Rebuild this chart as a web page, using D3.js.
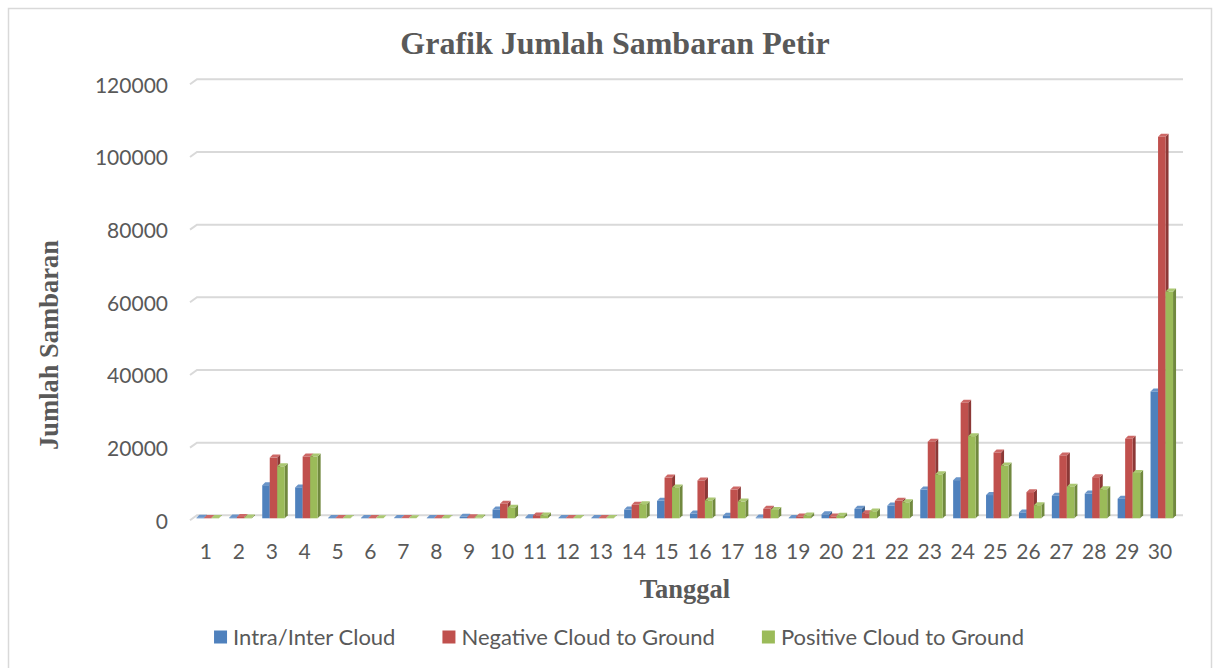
<!DOCTYPE html>
<html>
<head>
<meta charset="utf-8">
<script src="https://cdn.jsdelivr.net/npm/d3@7"></script>
<style>
  body { margin: 0; background: #fff; }
  svg { display: block; }
</style>
</head>
<body>
<script>
// data
var days = d3.range(1, 31);
var seriesNames = ["Intra/Inter Cloud", "Negative Cloud to Ground", "Positive Cloud to Ground"];
var intraInter = [150, 250, 9100, 8500, 100, 100, 50, 100, 400, 2400,
                  300, 100, 100, 2400, 4800, 1300, 700, 200, 100, 1100,
                  2600, 3500, 7900, 10500, 6400, 1600, 6200, 6800, 5400, 34900];
var negativeCG = [100, 350, 16700, 17000, 100, 100, 50, 100, 300, 4000,
                  800, 100, 100, 3700, 11200, 10400, 7900, 2600, 500, 500,
                  1400, 4800, 21100, 31800, 18100, 7200, 17300, 11300, 21900, 105000];
var positiveCG = [80, 250, 14300, 17000, 80, 0, 0, 80, 200, 2900,
                  800, 80, 80, 3900, 8500, 4900, 4600, 2300, 800, 700,
                  1900, 4400, 12100, 22600, 14500, 3600, 8700, 8000, 12500, 62400];
var yTicks = [0, 20000, 40000, 60000, 80000, 100000, 120000];

var W = 1219, H = 668;
var front = ["#4F81BD", "#C0504D", "#9BBB59"];
var side = ["#385D8A", "#8C3836", "#71893F"];
var top_ = ["#6A95C9", "#CD6866", "#ABC872"];
var textCol = "#595959";

var svg = d3.select("body").append("svg")
    .attr("width", W)
    .attr("height", H);

// outer frame
svg.append("rect")
    .attr("x", 8.5).attr("y", 8.5)
    .attr("width", 1203).attr("height", 700)
    .attr("fill", "none")
    .attr("stroke", "#d9d9d9")
    .attr("stroke-width", 1.5);

var xScale = d3.scaleBand().domain(days).range([189.5, 1176.5]).padding(0);
var yScale = d3.scaleLinear().domain([0, 120000]).range([515.3, 79.3]);

// gridlines on the back wall, with the little slanted lead-in
svg.append("g").selectAll("path")
    .data(yTicks)
    .enter()
    .append("path")
    .attr("d", function(d) {
        var y = yScale(d);
        return "M190," + (y + 5) + "L197," + y + "L1183," + y;
    })
    .attr("fill", "none")
    .attr("stroke", "#d9d9d9")
    .attr("stroke-width", 2);

// y tick labels
svg.append("g").selectAll("text")
    .data(yTicks)
    .enter()
    .append("text")
    .attr("x", 168)
    .attr("y", function(d) { return yScale(d) + 6; })
    .attr("dy", "0.35em")
    .attr("text-anchor", "end")
    .style("font-family", "Lato, 'Open Sans', sans-serif")
    .style("font-size", "21px")
    .style("fill", textCol)
    .text(function(d) { return d; });

// x tick labels
svg.append("g").selectAll("text")
    .data(days)
    .enter()
    .append("text")
    .attr("x", function(d) { return xScale(d) + xScale.bandwidth() / 2; })
    .attr("y", 551.5)
    .attr("dy", "0.35em")
    .attr("text-anchor", "middle")
    .style("font-family", "Lato, 'Open Sans', sans-serif")
    .style("font-size", "21px")
    .style("fill", textCol)
    .text(function(d) { return d; });

// bars, drawn as little 3D columns
var allSeries = [intraInter, negativeCG, positiveCG];
var barW = 7.5, dx = 3, dy = 3;
var baseY = yScale(0) + dy;

allSeries.forEach(function(values, s) {
    var g = svg.append("g");
    var rows = days.map(function(d, i) {
        var cx = xScale(d) + xScale.bandwidth() / 2;
        return { x0: cx - 9.5 + s * barW, yt: yScale(values[i]) + dy, v: values[i] };
    });
    // side face
    g.selectAll("path.side")
        .data(rows)
        .enter()
        .append("path")
        .attr("class", "side")
        .attr("d", function(r) {
            var x1 = r.x0 + barW;
            return "M" + x1 + "," + baseY + "L" + (x1 + dx) + "," + (baseY - dy) +
                "L" + (x1 + dx) + "," + (r.yt - dy) + "L" + x1 + "," + r.yt + "Z";
        })
        .attr("fill", side[s]);
    // top face
    g.selectAll("path.top")
        .data(rows)
        .enter()
        .append("path")
        .attr("class", "top")
        .attr("d", function(r) {
            return "M" + r.x0 + "," + r.yt + "L" + (r.x0 + dx) + "," + (r.yt - dy) +
                "L" + (r.x0 + barW + dx) + "," + (r.yt - dy) + "L" + (r.x0 + barW) + "," + r.yt + "Z";
        })
        .attr("fill", top_[s]);
    // front face
    g.selectAll("rect")
        .data(rows)
        .enter()
        .append("rect")
        .attr("x", function(r) { return r.x0; })
        .attr("y", function(r) { return r.yt; })
        .attr("width", barW)
        .attr("height", function(r) { return baseY - r.yt; })
        .attr("fill", front[s]);
});

// title
svg.append("text")
    .attr("x", 615)
    .attr("y", 54)
    .attr("text-anchor", "middle")
    .style("font-family", "'Liberation Serif', 'Times New Roman', serif")
    .style("font-weight", "bold")
    .style("font-size", "32px")
    .style("fill", textCol)
    .text("Grafik Jumlah Sambaran Petir");

// axis titles
svg.append("text")
    .attr("x", 685)
    .attr("y", 598)
    .attr("text-anchor", "middle")
    .style("font-family", "'Liberation Serif', 'Times New Roman', serif")
    .style("font-weight", "bold")
    .style("font-size", "26.5px")
    .style("fill", textCol)
    .text("Tanggal");

svg.append("text")
    .attr("transform", "translate(58,345) rotate(-90)")
    .attr("text-anchor", "middle")
    .style("font-family", "'Liberation Serif', 'Times New Roman', serif")
    .style("font-weight", "bold")
    .style("font-size", "26.5px")
    .style("fill", textCol)
    .text("Jumlah Sambaran");

// legend
var legend = svg.append("g");
var items = legend.selectAll("g")
    .data(seriesNames)
    .enter()
    .append("g");
items.append("rect")
    .attr("width", 13).attr("height", 13)
    .attr("y", -6.5)
    .attr("fill", function(d, i) { return front[i]; });
items.append("text")
    .attr("x", 19)
    .attr("dy", "0.35em")
    .style("font-family", "Lato, 'Open Sans', sans-serif")
    .style("font-size", "22px")
    .style("fill", textCol)
    .text(function(d) { return d; });

var pos = 0, gap = 47, starts = [];
items.each(function(d, i) {
    starts.push(pos);
    pos += 19 + d3.select(this).select("text").node().getComputedTextLength() + gap;
});
var total = pos - gap;
var left = 619 - total / 2;
items.attr("transform", function(d, i) { return "translate(" + (left + starts[i]) + ",637)"; });
</script>
</body>
</html>
